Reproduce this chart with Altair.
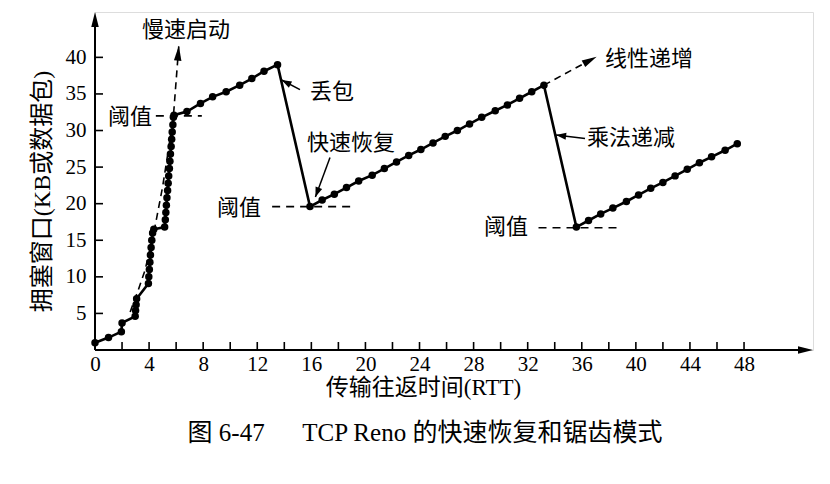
import math
import altair as alt
import pandas as pd

# ---------------- data ----------------
# slow start (RTT, congestion window)
ss_rtt = [0, 1, 1.95, 2.0, 2.97, 3.0, 3.04, 3.08, 3.95, 3.98, 4.02, 4.06, 4.1, 4.15, 4.2, 4.26, 4.35,
          5.15, 5.2, 5.24, 5.28, 5.32, 5.37, 5.41, 5.45, 5.5, 5.54, 5.58, 5.63, 5.67, 5.71, 5.76, 5.8]
ss_win = [1, 1.7, 2.5, 3.7, 4.6, 5.4, 6.2, 7.0, 9.1, 10.0, 11.0, 12.0, 13.0, 14.0, 15.0, 16.0, 16.5,
          16.8, 17.8, 18.8, 19.8, 20.8, 21.8, 22.8, 23.8, 24.8, 25.8, 26.8, 27.8, 28.8, 29.8, 30.8, 31.8]
# first additive increase, up to the loss
ca1_rtt = [5.84, 6.8, 7.8, 8.7, 9.7, 10.7, 11.6, 12.5, 13.5]
ca1_win = [32.1, 32.6, 33.7, 34.6, 35.3, 36.2, 37.1, 38.1, 39.0]
# after fast recovery: linear increase
ca2_rtt = [15.9, 16.8, 17.7, 18.6, 19.5, 20.5, 21.4, 22.3, 23.2, 24.1,
           25.0, 25.9, 26.8, 27.7, 28.6, 29.6, 30.5, 31.4, 32.3, 33.2]
ca2_win = [19.6, 20.5, 21.3, 22.2, 23.1, 23.9, 24.8, 25.7, 26.6, 27.4,
           28.3, 29.2, 30.0, 30.9, 31.8, 32.7, 33.5, 34.4, 35.3, 36.2]
# after multiplicative decrease
ca3_rtt = [35.6, 36.5, 37.4, 38.3, 39.3, 40.2, 41.1, 42.0, 42.9, 43.8, 44.7, 45.6, 46.6, 47.5]
ca3_win = [16.8, 17.7, 18.6, 19.4, 20.3, 21.2, 22.1, 22.9, 23.8, 24.7, 25.6, 26.4, 27.3, 28.2]

# dashed guide of slow start and of linear increase
ss_guide_rtt = [2.6, 3.2, 3.7, 4.4, 5.0, 5.4, 5.8, 6.2]
ss_guide_win = [5.2, 8.2, 10.9, 16.5, 22.3, 27.0, 32.0, 41.6]
lin_guide_rtt = [33.2, 37.1]
lin_guide_win = [36.2, 40.1]

# thresholds
thr_from = [4.5, 13.1, 32.8]
thr_to = [7.9, 19.0, 38.8]
thr_level = [32.0, 19.6, 16.7]

# axes
x_tick_vals = list(range(2, 50, 2))
x_label_vals = list(range(0, 52, 4))
y_tick_vals = [5, 10, 15, 20, 25, 30, 35, 40]

# ---------------- layout ----------------
W, H = 718, 338
XMAX, YMAX = 53.1, 46.2
PXX, PXY = W / XMAX, H / YMAX

CJK = "Noto Sans CJK SC"
SERIF = "Liberation Serif"
MIXED = "'Liberation Serif', 'Noto Sans CJK SC'"

XS = alt.Scale(domain=[0, XMAX], nice=False, zero=False)
YS = alt.Scale(domain=[0, YMAX], nice=False, zero=False)
XA = alt.Axis(values=x_label_vals, domain=False, ticks=False, grid=False,
              labelFont=SERIF, labelFontSize=21, labelColor="black", labelPadding=3,
              labelFlush=False, title="传输往返时间(RTT)", titleFont=MIXED, titleFontSize=23,
              titleFontWeight="normal", titleColor="black", titleX=328, titleY=37,
              titleBaseline="middle", titleAlign="center")
YA = alt.Axis(values=y_tick_vals, domain=False, ticks=False, grid=False,
              labelFont=SERIF, labelFontSize=21, labelColor="black", labelPadding=9,
              title="拥塞窗口(KB或数据包)", titleFont=MIXED, titleFontSize=24,
              titleFontWeight="normal", titleColor="black", titleX=-53, titleY=179,
              titleBaseline="middle", titleAlign="center", titleAngle=270)


def X(f="t"):
    return alt.X(f"{f}:Q", scale=XS, axis=XA)


def Y(f="v"):
    return alt.Y(f"{f}:Q", scale=YS, axis=YA)


# main trajectory
all_t = ss_rtt + ca1_rtt + ca2_rtt + ca3_rtt
all_v = ss_win + ca1_win + ca2_win + ca3_win
main = pd.DataFrame({"t": all_t, "v": all_v, "i": list(range(len(all_t)))})

line = alt.Chart(main).mark_line(color="black", strokeWidth=2.6).encode(
    x=X(), y=Y(), order="i:Q")
dots = alt.Chart(main).mark_circle(color="black", size=56, opacity=1).encode(x=X(), y=Y())

ss_guide = alt.Chart(pd.DataFrame({"t": ss_guide_rtt, "v": ss_guide_win, "i": range(len(ss_guide_rtt))})
                     ).mark_line(color="black", strokeWidth=1.6, strokeDash=[7, 5]).encode(
    x=X(), y=Y(), order="i:Q")
lin_guide = alt.Chart(pd.DataFrame({"t": lin_guide_rtt, "v": lin_guide_win})
                      ).mark_line(color="black", strokeWidth=1.6, strokeDash=[7, 5]).encode(x=X(), y=Y())

thr = alt.Chart(pd.DataFrame({"t": thr_from, "t2": thr_to, "v": thr_level})
                ).mark_rule(color="black", strokeWidth=1.6, strokeDash=[8, 6]).encode(
    x=X(), x2="t2:Q", y=Y())

# axis lines
axes = alt.Chart(pd.DataFrame({"t": [0, 0], "t2": [52.0, 0], "v": [0, 0], "v2": [0, 45.0]})
                 ).mark_rule(color="black", strokeWidth=2).encode(x=X(), x2="t2:Q", y=Y(), y2="v2:Q")

xticks = alt.Chart(pd.DataFrame({"t": x_tick_vals})).mark_rule(color="black", strokeWidth=1.6).encode(
    x=X(), y=alt.value(H), y2=alt.value(H - 8))
yticks = alt.Chart(pd.DataFrame({"v": y_tick_vals})).mark_rule(color="black", strokeWidth=1.6).encode(
    y=Y(), x=alt.value(0), x2=alt.value(8))

# annotation arrows (shaft from -> tip), in data coordinates
ann_from_t = [15.16, 17.38, 36.24]
ann_from_v = [35.6, 26.3, 28.9]
ann_tip_t = [13.8, 16.3, 34.1]
ann_tip_v = [36.9, 20.9, 29.4]
shafts = alt.Chart(pd.DataFrame({"t": ann_from_t, "t2": ann_tip_t, "v": ann_from_v, "v2": ann_tip_v})
                   ).mark_rule(color="black", strokeWidth=1.5).encode(x=X(), x2="t2:Q", y=Y(), y2="v2:Q")


def ang(t0, v0, t1, v1):
    a = math.degrees(math.atan2(-(v1 - v0) * PXY, (t1 - t0) * PXX))
    return a % 360


HEAD_BIG = "M0,0 L-3,-0.75 L-3,0.75 Z"
HEAD_SMALL = "M0,0 L-2,-0.7 L-2,0.7 Z"

big_heads = pd.DataFrame({
    "t": [XMAX, 0, ss_guide_rtt[-1], lin_guide_rtt[-1]],
    "v": [0, YMAX, ss_guide_win[-1], lin_guide_win[-1]],
    "a": [0, 270,
          ang(ss_guide_rtt[-2], ss_guide_win[-2], ss_guide_rtt[-1], ss_guide_win[-1]),
          ang(lin_guide_rtt[0], lin_guide_win[0], lin_guide_rtt[-1], lin_guide_win[-1])],
})
heads1 = alt.Chart(big_heads).mark_point(shape=HEAD_BIG, filled=True, color="black", opacity=1,
                                         size=100, strokeWidth=0).encode(
    x=X(), y=Y(), angle=alt.Angle("a:Q", scale=None))
small_heads = pd.DataFrame({
    "t": ann_tip_t, "v": ann_tip_v,
    "a": [ang(a, b, c, d) for a, b, c, d in zip(ann_from_t, ann_from_v, ann_tip_t, ann_tip_v)],
})
heads2 = alt.Chart(small_heads).mark_point(shape=HEAD_SMALL, filled=True, color="black", opacity=1,
                                           size=100, strokeWidth=0).encode(
    x=X(), y=Y(), angle=alt.Angle("a:Q", scale=None))


def label(txt, px, py, align="left", size=22, font=CJK):
    return alt.Chart(pd.DataFrame({"s": [txt]})).mark_text(
        align=align, baseline="middle", font=font, fontSize=size, color="black").encode(
        x=alt.value(px), y=alt.value(py), text="s:N")


labels = [
    label("慢速启动", 47, 18),
    label("阈值", 57, 105, align="right"),
    label("阈值", 166, 196, align="right"),
    label("阈值", 433, 215, align="right"),
    label("丢包", 215, 80),
    label("快速恢复", 212, 131),
    label("线性递增", 510, 47),
    label("乘法递减", 492, 126),
    label("图 6-47\u2003\u2002TCP Reno 的快速恢复和锯齿模式", 330, 421, align="center", size=25, font=MIXED),
]

chart = alt.layer(
    axes, xticks, yticks, thr, ss_guide, lin_guide, line, dots, shafts, heads1, heads2, *labels
).properties(
    width=W, height=H,
    autosize=alt.AutoSizeParams(type="none"),
    padding={"left": 95, "top": 12, "right": 17, "bottom": 134},
).configure_view(stroke=None).configure(background="white")

chart.save("out.html", embed_options={"renderer": "svg", "actions": False})
